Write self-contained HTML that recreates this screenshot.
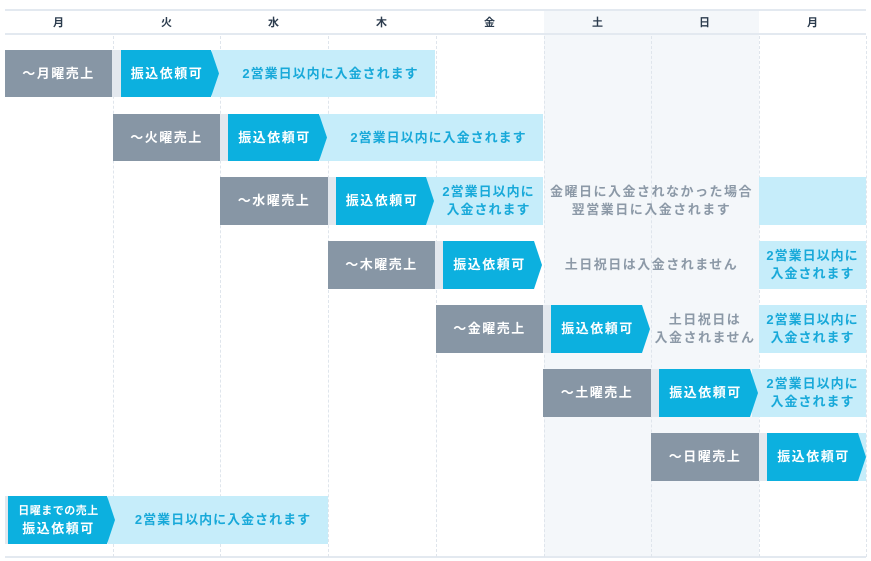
<!DOCTYPE html>
<html><head><meta charset="utf-8"><style>
body{margin:0;width:871px;height:561px;background:#fff;position:relative;overflow:hidden;font-family:"Liberation Sans","Noto Sans CJK JP",sans-serif;font-weight:bold;}
.a{position:absolute;box-sizing:border-box;display:flex;align-items:center;justify-content:center;text-align:center;letter-spacing:1.5px;line-height:18px;font-size:13px;}
.g{background:#8796a5;color:#fff;}
.b{background:#0cb0df;color:#fff;clip-path:polygon(0 0,calc(100% - 8px) 0,100% 50%,calc(100% - 8px) 100%,0 100%);}
.l{background:#c6edfa;color:#18a9d9;}
.s{background:#e3e8ee;}
.t{color:#8c99a7;}
.h{position:absolute;top:12px;height:22px;line-height:22px;font-size:11px;color:#2b3b4d;text-align:center;width:107px;}
.v{position:absolute;top:36px;height:521px;width:0;border-left:1px dashed #dfe5ec;}
.one{padding-left:14px;letter-spacing:1px;}
</style></head><body>
<div style="position:absolute;left:544px;top:10px;width:215px;height:547px;background:#f4f7fa"></div>
<div style="position:absolute;left:5px;top:9px;width:861px;height:2px;background:#e3e9f0"></div>
<div style="position:absolute;left:5px;top:33px;width:861px;height:2px;background:#e3e9f0"></div>
<div style="position:absolute;left:5px;top:556px;width:861px;height:2px;background:#e3e9f0"></div>
<div class="v" style="left:113px"></div><div class="v" style="left:220px"></div><div class="v" style="left:328px"></div><div class="v" style="left:436px"></div><div class="v" style="left:544px"></div><div class="v" style="left:651px"></div><div class="v" style="left:759px"></div><div class="v" style="left:866px"></div>
<div class="h" style="left:5px">月</div><div class="h" style="left:113px">火</div><div class="h" style="left:220px">水</div><div class="h" style="left:328px">木</div><div class="h" style="left:436px">金</div><div class="h" style="left:544px">土</div><div class="h" style="left:651px">日</div><div class="h" style="left:759px">月</div>

<!-- row1 -->
<div class="a s" style="left:112px;top:50px;width:10px;height:47px"></div>
<div class="a g" style="left:5px;top:50px;width:107px;height:47px">～月曜売上</div>
<div class="a l one" style="left:212px;top:50px;width:223px;height:47px">2営業日以内に入金されます</div>
<div class="a b" style="left:121px;top:50px;width:98px;height:47px;padding-right:6px">振込依頼可</div>
<!-- row2 -->
<div class="a s" style="left:220px;top:114px;width:9px;height:47px"></div>
<div class="a g" style="left:113px;top:114px;width:107px;height:47px">～火曜売上</div>
<div class="a l one" style="left:320px;top:114px;width:223px;height:47px">2営業日以内に入金されます</div>
<div class="a b" style="left:228px;top:114px;width:99px;height:47px;padding-right:6px">振込依頼可</div>
<!-- row3 -->
<div class="a s" style="left:328px;top:177px;width:9px;height:48px"></div>
<div class="a g" style="left:220px;top:177px;width:108px;height:48px">～水曜売上</div>
<div class="a l" style="left:426px;top:177px;width:117px;height:48px;padding-left:8px;letter-spacing:1px">2営業日以内に<br>入金されます</div>
<div class="a b" style="left:336px;top:177px;width:98px;height:48px;padding-right:6px">振込依頼可</div>
<div class="a t" style="left:544px;top:177px;width:215px;height:48px">金曜日に入金されなかった場合<br>翌営業日に入金されます</div>
<div class="a l" style="left:759px;top:177px;width:107px;height:48px"></div>
<!-- row4 -->
<div class="a s" style="left:435px;top:241px;width:9px;height:48px"></div>
<div class="a g" style="left:328px;top:241px;width:107px;height:48px">～木曜売上</div>
<div class="a b" style="left:443px;top:241px;width:99px;height:48px;padding-right:6px">振込依頼可</div>
<div class="a t" style="left:544px;top:241px;width:215px;height:48px">土日祝日は入金されません</div>
<div class="a l" style="left:759px;top:241px;width:107px;height:48px;letter-spacing:1px">2営業日以内に<br>入金されます</div>
<!-- row5 -->
<div class="a s" style="left:543px;top:305px;width:9px;height:48px"></div>
<div class="a g" style="left:436px;top:305px;width:107px;height:48px">～金曜売上</div>
<div class="a b" style="left:551px;top:305px;width:99px;height:48px;padding-right:6px">振込依頼可</div>
<div class="a t" style="left:651px;top:305px;width:108px;height:48px">土日祝日は<br>入金されません</div>
<div class="a l" style="left:759px;top:305px;width:107px;height:48px;letter-spacing:1px">2営業日以内に<br>入金されます</div>
<!-- row6 -->
<div class="a s" style="left:651px;top:369px;width:9px;height:48px"></div>
<div class="a g" style="left:543px;top:369px;width:108px;height:48px">～土曜売上</div>
<div class="a l" style="left:752px;top:369px;width:114px;height:48px;padding-left:7px;letter-spacing:1px">2営業日以内に<br>入金されます</div>
<div class="a b" style="left:659px;top:369px;width:99px;height:48px;padding-right:6px">振込依頼可</div>
<!-- row7 -->
<div class="a s" style="left:759px;top:433px;width:9px;height:48px"></div>
<div class="a g" style="left:651px;top:433px;width:108px;height:48px">～日曜売上</div>
<div class="a l" style="left:858px;top:433px;width:8px;height:48px"></div>
<div class="a b" style="left:767px;top:433px;width:99px;height:48px;padding-right:6px">振込依頼可</div>
<!-- row8 -->
<div class="a s" style="left:5px;top:496px;width:4px;height:48px"></div>
<div class="a l one" style="left:108px;top:496px;width:220px;height:48px;padding-left:10px">2営業日以内に入金されます</div>
<div class="a b" style="left:8px;top:496px;width:107px;height:48px;padding-right:6px;flex-direction:column;line-height:18px"><span style="font-size:11px;letter-spacing:0.5px">日曜までの売上</span><span>振込依頼可</span></div>
</body></html>
